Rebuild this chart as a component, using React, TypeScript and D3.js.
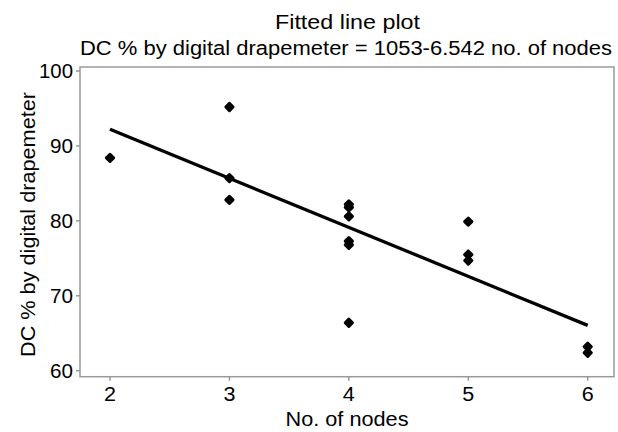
import React from "react";
import * as d3 from "d3";

const pointX = [2, 3, 3, 3, 4, 4, 4, 4, 4, 4, 5, 5, 5, 6, 6];
const pointY = [88.4, 95.2, 85.7, 82.8, 82.2, 81.8, 80.6, 77.3, 76.8, 66.4, 79.9, 75.5, 74.7, 63.2, 62.4];
const xTicks = [2, 3, 4, 5, 6];
const yTicks = [60, 70, 80, 90, 100];
const intercept = 105.3;
const slope = -6.542;
const fitRange = [2, 6];
const title1 = "Fitted line plot";
const title2 = "DC % by digital drapemeter = 1053-6.542 no. of nodes";
const xLabel = "No. of nodes";
const yLabel = "DC % by digital drapemeter";

export default function App() {
  const W = 618, H = 432;
  const left = 80, right = 614, top = 67, bottom = 376.7;
  const x = d3.scaleLinear().domain([2, 6]).range([110, 587.7]);
  const y = d3.scaleLinear().domain([60, 100]).range([370.7, 71]);
  const font = "Liberation Sans, Arial, sans-serif";
  const line = d3.line<number>().x((d) => x(d)).y((d) => y(intercept + slope * d));
  const sym = d3.symbol().type(d3.symbolSquare).size(26)();
  return (
    <svg width={W} height={H} style={{ position: "absolute", left: 0, top: 0 }} fontFamily={font}>
      <rect x={0} y={0} width={W} height={H} fill="#fff" />
      <text x={347.5} y={29} textAnchor="middle" fontSize={20} textLength={145} lengthAdjust="spacingAndGlyphs">{title1}</text>
      <text x={346} y={55} textAnchor="middle" fontSize={20} textLength={532} lengthAdjust="spacingAndGlyphs">{title2}</text>
      <rect x={left} y={top} width={right - left} height={bottom - top} fill="none" stroke="#999" strokeWidth={1.5} />
      {yTicks.map((t) => (
        <g key={t}>
          <line x1={left - 4} x2={left} y1={y(t)} y2={y(t)} stroke="#999" strokeWidth={1.5} />
          <text x={left - 7} y={y(t)} dy="0.36em" textAnchor="end" fontSize={19.5} textLength={t === 100 ? 34 : 23} lengthAdjust="spacingAndGlyphs">{t}</text>
        </g>
      ))}
      {xTicks.map((t) => (
        <g key={t}>
          <line x1={x(t)} x2={x(t)} y1={bottom} y2={bottom + 4} stroke="#999" strokeWidth={1.5} />
          <text x={x(t)} y={400.5} textAnchor="middle" fontSize={19.5} textLength={12} lengthAdjust="spacingAndGlyphs">{t}</text>
        </g>
      ))}
      <text x={347} y={426} textAnchor="middle" fontSize={20} textLength={123} lengthAdjust="spacingAndGlyphs">{xLabel}</text>
      <text transform={`translate(35,224.5) rotate(-90)`} textAnchor="middle" fontSize={20} textLength={265} lengthAdjust="spacingAndGlyphs">{yLabel}</text>
      <path d={line(fitRange) || ""} stroke="#000" strokeWidth={3.3} fill="none" />
      {pointX.map((px, i) => (
        <path key={i} d={sym || ""} transform={`translate(${x(px)},${y(pointY[i])}) rotate(45)`} fill="#000" stroke="#000" strokeWidth={3} strokeLinejoin="round" />
      ))}
    </svg>
  );
}
